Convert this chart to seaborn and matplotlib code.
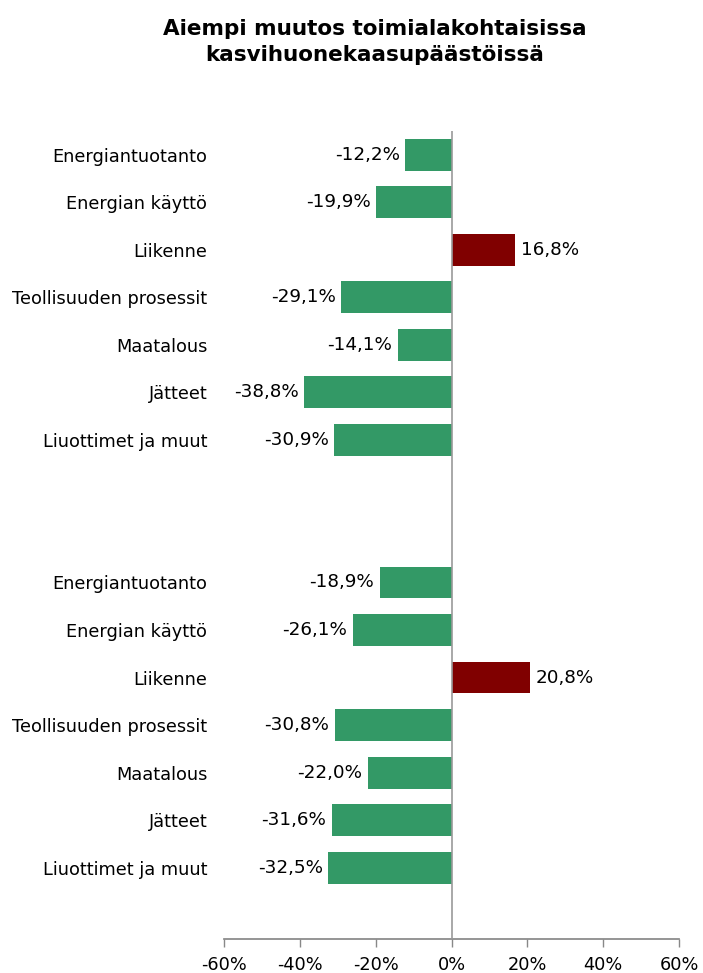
import matplotlib
matplotlib.use("Agg")
import matplotlib.pyplot as plt
import seaborn as sns
import pandas as pd

# two blocks of the same sectors, with empty slots between / after them
sectors = ["Energiantuotanto", "Energian käyttö", "Liikenne",
           "Teollisuuden prosessit", "Maatalous", "Jätteet",
           "Liuottimet ja muut"]
values_top = [-12.2, -19.9, 16.8, -29.1, -14.1, -38.8, -30.9]
values_bottom = [-18.9, -26.1, 20.8, -30.8, -22.0, -31.6, -32.5]
slots_top = [0, 1, 2, 3, 4, 5, 6]
slots_bottom = [9, 10, 11, 12, 13, 14, 15]
n_slots = 17
xticks = [-60, -40, -20, 0, 20, 40, 60]

GREEN = "#339966"
RED = "#800000"

sns.set_theme(style="white")
plt.rcParams["font.family"] = ["DejaVu Sans"]
plt.rcParams["text.color"] = "black"
plt.rcParams["xtick.labelcolor"] = "black"
plt.rcParams["ytick.labelcolor"] = "black"

df = pd.DataFrame({
    "slot": slots_top + slots_bottom,
    "value": values_top + values_bottom,
    "label": sectors + sectors,
})
df["sign"] = ["neg" if v < 0 else "pos" for v in df["value"]]

fig = plt.figure(figsize=(7.03, 9.73), dpi=100)
ax = fig.add_axes([0.3186, 0.035, 0.6473, 0.8304])

sns.barplot(data=df, x="value", y="slot", hue="sign", orient="h",
            order=list(range(n_slots)), palette={"neg": GREEN, "pos": RED},
            width=0.67, dodge=False, legend=False, ax=ax, saturation=1,
            linewidth=0)

ax.set_xlim(-60, 60)
ax.set_ylim(n_slots - 0.5, -0.5)

# y labels only at the filled slots
ax.set_yticks(df["slot"])
ax.set_yticklabels(df["label"], fontsize=12.8)
ax.tick_params(axis="y", length=0, pad=12)

ax.set_xticks(xticks)
ax.set_xticklabels([f"{t}%" for t in xticks], fontsize=12.8)
ax.tick_params(axis="x", direction="out", length=6, width=1, color="#888888",
               pad=6, bottom=True)

ax.set_xlabel("")
ax.set_ylabel("")
for side in ["top", "right", "left"]:
    ax.spines[side].set_visible(False)
ax.spines["bottom"].set_color("#888888")
ax.axvline(0, color="#999999", lw=1.2, zorder=3)

for s, v in zip(df["slot"], df["value"]):
    txt = f"{abs(v):.1f}%".replace(".", ",")
    txt = ("-" + txt) if v < 0 else txt
    if v < 0:
        ax.annotate(txt, (v, s), xytext=(-4, 0), textcoords="offset points",
                    ha="right", va="center", fontsize=13.2)
    else:
        ax.annotate(txt, (v, s), xytext=(4, 0), textcoords="offset points",
                    ha="left", va="center", fontsize=13.2)

fig.text(0.533, 0.957, "Aiempi muutos toimialakohtaisissa\nkasvihuonekaasupäästöissä",
         ha="center", va="center", fontsize=15.5, fontweight="bold", linespacing=1.35)

fig.savefig("out.png", dpi=100)
